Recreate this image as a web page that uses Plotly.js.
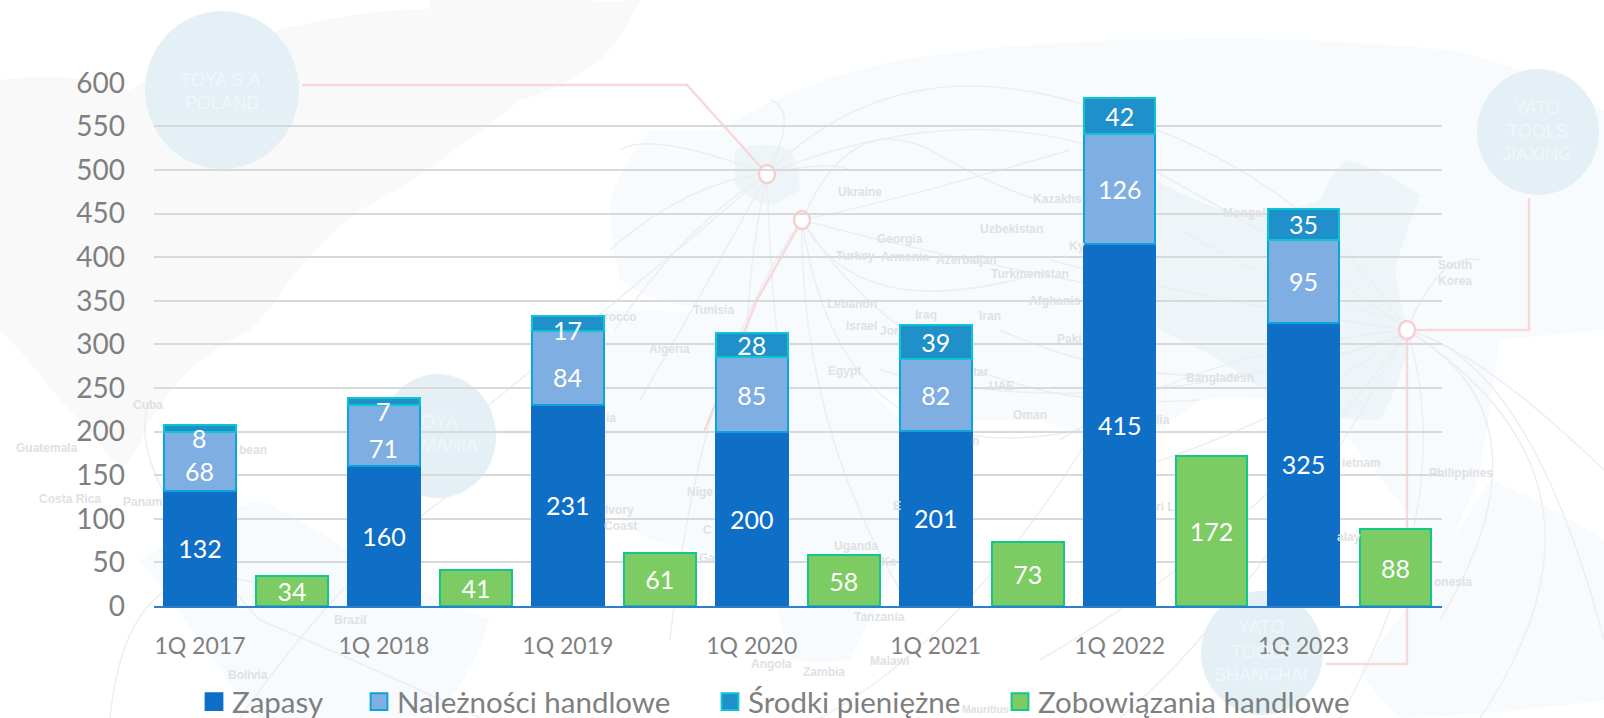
<!DOCTYPE html>
<html><head><meta charset="utf-8">
<script src="https://cdn.plot.ly/plotly-3.0.1.min.js"></script>
<style>
html,body{margin:0;padding:0;background:#fff;overflow:hidden}
#chart{width:1604px;height:718px}
</style></head><body><div id="chart"></div>
<script>
// ---- chart data ----
const quarters = ['1Q 2017','1Q 2018','1Q 2019','1Q 2020','1Q 2021','1Q 2022','1Q 2023'];
const zapasy = [132,160,231,200,201,415,325];
const naleznosci = [68,71,84,85,82,126,95];
const srodki = [8,7,17,28,39,42,35];
const zobowiazania = [34,41,61,58,73,172,88];
const yTicks = [0,50,100,150,200,250,300,350,400,450,500,550,600];
// how far (px) the reference nudged a label below the middle of its segment
const naleznosciNudge = [10,13,9,0,0,0,0];
const srodkiNudge = [10,10,6,0,0,0,0];

// ---- background map labels: [text, x, y, optional size] in page pixels ----
const mapLabels = [
 ['rocco',620,317],['Tunisia',713,310],['Algeria',669,349],['Ukraine',860,192],['Kazakhs',1057,199],['Mongol',1244,213],
 ['Uzbekistan',1011,229],['Georgia',900,239],['Ky',1077,246],['Turkey',855,256],['Armenia',905,257],['Azerbaijan',967,260],
 ['Turkmenistan',1030,274],['Afghanis',1055,301],['Lebanon',852,304],['Iraq',926,315],['Iran',990,316],['Israel',861,326],
 ['Jor',889,331],['Paki',1069,339],['South',1455,265],['Korea',1455,281],['Cuba',148,405],['Guatemala',47,448],['bean',253,450],
 ['Costa Rica',70,499],['Panam',142,502],['ia',611,418],['Ivory',619,510],['Coast',620,526],['Nige',700,492],['C',707,530],
 ['Ga',707,558],['Brazil',350,620],['Bolivia',248,675],['Angola',771,664],['Egypt',844,371],['tar',981,372],['UAE',1001,386],
 ['Oman',1030,415],['n',976,441],['Bangladesh',1220,378],['lia',1163,420],['ietnam',1361,463],['Philippines',1461,473],
 ['ri L',1165,507],['alay',1349,537],['onesia',1453,582],['E',897,506],['Uganda',856,546],['Ke',889,562],['Tanzania',879,617],
 ['Malawi',889,661],['Zambia',824,672],['Mauritius',986,709,10.5]
];
const bubbleLabels = [
 ['TOYA S.A.',222,80],['POLAND',222,103],['YATO',1537,108],['TOOLS',1537,131],['JIAXING',1537,154],
 ['OYA',439,422],['MANIA',449,445],['YATO',1261,627],['TOOLS',1261,652],['SHANGHAI',1261,675]
];
const bubbles = [[222,90,77,79],[1538,132,61,63],[438,436,58,62],[1262,653,61,62]];
const rings = [[767,174],[802,220],[1407,330]];
const redRoutes = ['M302,85 L687,85 L767,174','M802,220 L757,300 L704,432 L500,432','M1529,198 L1529,330 L1407,330','M1407,330 L1407,664 L1326,664'];
const grayRoutes = [
 'M767,174 Q650,130 620,150','M767,174 Q690,180 610,250','M767,174 Q680,230 615,330','M767,174 Q620,300 470,420','M767,174 Q710,280 640,400',
 'M767,174 Q740,300 750,400','M767,174 Q770,280 780,360','M767,174 Q800,110 770,100','M767,174 Q830,160 850,170',
 'M767,174 Q900,40 1100,110 Q1300,170 1400,320','M767,174 Q1000,80 1180,185 Q1300,250 1407,330',
 'M802,220 Q900,200 1070,150','M802,220 Q850,110 930,150 Q1000,190 1040,200','M802,220 Q860,330 1050,270','M802,220 Q950,260 1180,300',
 'M802,220 Q840,480 1080,430','M802,220 Q930,420 1200,400','M802,220 Q800,420 900,590','M802,220 Q700,360 670,640',
 'M470,480 Q350,560 240,718','M150,400 Q120,470 260,620 Q400,680 480,718','M110,718 Q130,520 300,600','M820,718 Q1000,620 1150,330',
 'M1407,330 Q1200,350 1060,440','M1407,330 Q1300,420 1100,480','M1407,330 Q1280,520 1040,660','M1407,330 Q1440,250 1480,260','M1407,330 Q1460,500 1340,718',
 'M1407,330 Q1560,420 1440,620','M1407,330 Q1640,480 1480,718','M1407,330 Q1530,360 1604,640','M1407,330 Q1480,350 1604,470','M1407,330 Q1260,600 1120,718',
 'M1180,230 Q1300,300 1400,320','M1050,260 Q1200,300 1407,330','M880,370 Q1100,430 1407,335','M1000,330 Q1200,420 1407,332'
];
const greyLand = [
 'M0,80 Q70,70 130,90 Q200,50 240,40 Q330,15 400,10 L640,0 Q620,40 600,60 Q560,90 520,100 Q470,140 440,160 Q400,190 360,210 Q320,240 290,280 Q270,310 250,330 Q210,350 190,370 Q165,395 150,420 Q140,450 120,470 Q90,430 60,400 Q30,360 0,330 Z',
 'M430,0 L590,0 Q590,30 580,45 Q545,70 510,80 Q470,100 450,110 Q430,90 425,60 Z'
];
const paleLand = [
 'M720,130 Q800,80 900,60 Q1030,40 1150,40 Q1300,35 1450,50 Q1540,70 1604,110 L1604,330 Q1550,335 1500,340 Q1490,410 1480,470 Q1465,520 1440,560 Q1400,500 1350,440 Q1310,410 1270,400 Q1235,395 1200,400 Q1160,430 1120,450 Q1080,435 1040,420 Q1000,420 960,420 Q910,405 860,380 Q810,355 760,330 Q710,310 660,300 Q640,295 620,280 Q610,240 610,200 Q625,160 650,130 Z',
 'M600,310 Q700,310 800,320 Q850,370 900,420 Q935,445 960,470 Q935,520 900,560 Q875,610 850,660 Q820,665 790,660 Q780,610 760,560 Q705,555 650,540 Q610,515 580,480 Q570,440 570,400 Z',
 'M140,560 Q200,520 260,500 Q320,530 380,570 Q440,600 490,620 Q475,665 450,700 Q430,715 400,718 L260,718 Q225,680 200,640 Z',
 'M1490,480 Q1550,505 1604,540 L1604,700 Q1500,715 1400,718 Q1375,695 1360,670 Q1390,630 1420,590 Z'
];
const tintLand = [
 'M1155,180 Q1200,205 1240,215 Q1285,215 1320,200 Q1330,175 1345,160 Q1385,170 1420,195 Q1405,235 1395,270 Q1400,305 1410,340 Q1400,385 1380,420 Q1340,420 1300,410 Q1260,390 1220,360 Q1180,340 1140,320 Q1105,290 1080,255 Z',
 'M735,150 Q765,140 790,150 Q800,170 800,190 Q785,200 770,205 Q750,200 735,185 Z'
];

// ---- page helpers: decoration in page pixels mapped on paper coordinates ----
const W = 1604, H = 718;
const px = x => x / W, py = y => 1 - y / H;
const toPaper = d => d.replace(/(-?[\d.]+),(-?[\d.]+)/g, (m, a, b) => px(+a) + ',' + py(+b));
const pathShape = (d, fill, line, lw) => ({type:'path', xref:'paper', yref:'paper', layer:'below', path:toPaper(d), fillcolor:fill, line:{color:line, width:lw}});
const ell = (cx, cy, rx, ry, fill, line, lw) => ({type:'circle', xref:'paper', yref:'paper', layer:'below', x0:px(cx-rx), x1:px(cx+rx), y0:py(cy+ry), y1:py(cy-ry), fillcolor:fill, line:{color:line, width:lw}});

const shapes = [
 ...greyLand.map(d => pathShape(d, '#f9f9f9', 'rgba(0,0,0,0)', 0)),
 ...paleLand.map(d => pathShape(d, '#f8fbfd', 'rgba(0,0,0,0)', 0)),
 ...tintLand.map(d => pathShape(d, '#eef5f9', 'rgba(0,0,0,0)', 0)),
 ...grayRoutes.map(d => pathShape(d, 'rgba(0,0,0,0)', '#eceef1', 1.5)),
 ...redRoutes.map(d => pathShape(d, 'rgba(0,0,0,0)', '#f6dada', 2.5)),
 ...bubbles.map(b => ell(b[0], b[1], b[2], b[3], '#e4eff6', 'rgba(0,0,0,0)', 0)),
 ...rings.map(r => ell(r[0], r[1], 8, 9, '#ffffff', '#f5cfd1', 2.5))
];
const noteAt = (t, x, y, color, size, weight) => ({text:t, xref:'paper', yref:'paper', x:px(x), y:py(y), xanchor:'center', yanchor:'middle', showarrow:false, font:{family:'Liberation Sans, Arial', size:size, color:color, weight:weight}});

// ---- traces ----
const stackX = quarters.map((q, i) => i * 2);
const greenX = quarters.map((q, i) => i * 2 + 1);
const labelFont = {family:'Lato', size:25, color:'#ffffff'};
const nudged = (vals, nudge) => vals.map((v, i) => nudge[i] ? '' : String(v));
const nudgeNotes = (vals, base, nudge) => vals.flatMap((v, i) => nudge[i] ? [{text:String(v), xref:'x', yref:'y', x:stackX[i], y:base[i] + v / 2, yshift:-nudge[i], xanchor:'center', yanchor:'middle', showarrow:false, font:labelFont}] : []);
const annotations = [
 ...mapLabels.map(l => noteAt(l[0], l[1], l[2], '#dfe1e4', l[3] || 12, 700)),
 ...bubbleLabels.map(l => noteAt(l[0], l[1], l[2], '#f1f6fa', 18, 400)),
 ...nudgeNotes(naleznosci, zapasy, naleznosciNudge),
 ...nudgeNotes(srodki, zapasy.map((v, i) => v + naleznosci[i]), srodkiNudge)
];
const barBase = {type:'bar', width:0.78, textposition:'inside', insidetextanchor:'middle', textangle:0, constraintext:'none', cliponaxis:false, insidetextfont:labelFont, textfont:labelFont, hoverinfo:'name+y'};
const traces = [
 {...barBase, name:'Zapasy', x:stackX, y:zapasy, text:zapasy.map(String), marker:{color:'#0F6FC6', line:{color:'#0F6FC6', width:2}}, legend:'legend'},
 {...barBase, name:'Należności handlowe', x:stackX, y:naleznosci, text:nudged(naleznosci, naleznosciNudge), marker:{color:'#7FAEE3', line:{color:'#0BA3DC', width:2}}, legend:'legend2'},
 {...barBase, name:'Środki pieniężne', x:stackX, y:srodki, text:nudged(srodki, srodkiNudge), marker:{color:'#2090CA', line:{color:'#0BC5D4', width:2}}, legend:'legend3'},
 {...barBase, name:'Zobowiązania handlowe', x:greenX, y:zobowiazania, text:zobowiazania.map(String), marker:{color:'#7CCB63', line:{color:'#11C78C', width:2}}, legend:'legend4'}
];
const legendAt = x => ({x:x/W, y:1-702/H, xanchor:'left', yanchor:'middle', orientation:'h', bgcolor:'rgba(0,0,0,0)', borderwidth:0, font:{family:'Lato', size:29.5, color:'#7f7f7f'}});

const layout = {
 width:W, height:H, margin:{l:0, r:0, t:0, b:0, pad:0, autoexpand:false}, paper_bgcolor:'#ffffff', plot_bgcolor:'rgba(0,0,0,0)',
 barmode:'stack', bargap:0.22, showlegend:true, shapes, annotations,
 font:{family:'Lato', color:'#7f7f7f'},
 xaxis:{domain:[154/W, 1441.5/W], range:[-0.5,13.5], tickmode:'array', tickvals:stackX, ticktext:quarters, showgrid:false, zeroline:false, ticks:'', showline:true, linecolor:'#2E7FCB', linewidth:2, ticklabelstandoff:18, tickfont:{family:'Lato', size:23, color:'#7f7f7f'}},
 yaxis:{domain:[1-606/H, 1-82.7/H], range:[0,600], tickmode:'array', tickvals:yTicks, showgrid:true, gridcolor:'#d9d9d9', gridwidth:2, zeroline:false, ticks:'', showline:false, ticklabelstandoff:28, tickfont:{family:'Lato', size:28, color:'#7f7f7f'}},
 legend:legendAt(192), legend2:legendAt(357), legend3:legendAt(708), legend4:legendAt(998)
};
Plotly.newPlot('chart', traces, layout, {displayModeBar:false, staticPlot:true}).then(gd => {
 // the reference's legend swatches are larger than Plotly's fixed 12 px square
 gd.querySelectorAll('.legendpoints path').forEach(p => {
  const t = p.getAttribute('transform') || '';
  p.setAttribute('transform', t.replace(/\s*scale\([^)]*\)/, '') + ' translate(2,0) scale(1.4)');
  p.style.strokeWidth = '1.4px';
 });
});
</script></body></html>
